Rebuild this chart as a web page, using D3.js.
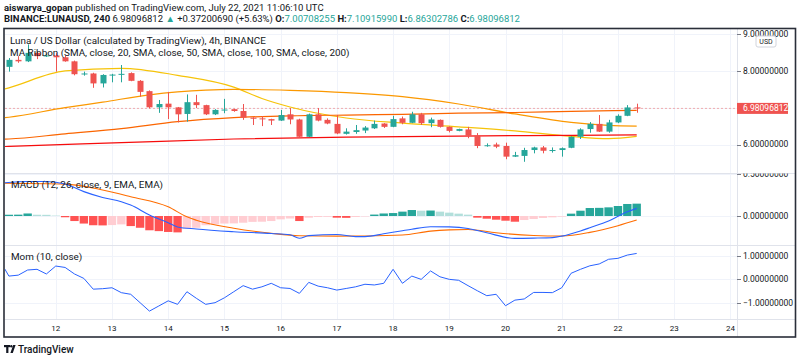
<!DOCTYPE html>
<meta charset="utf-8">
<style>
    body { margin: 0; background: #fff; }
    svg text { font-family: Roboto, "Noto Sans", sans-serif; fill: #131722; }
    .grid line { stroke: #f0f3fa; stroke-width: 1; }
    .sep { stroke: #e0e3eb; stroke-width: 1; }
    .axis-label { font-size: 8.5px; }
    .legend { font-size: 9.9px; }
</style>
<body>
<script src="https://d3js.org/d3.v7.min.js"></script>
<script>

// ---- data (4h candles, Jul 11 04:00 .. Jul 22 08:00 UTC) ----
var openP  = [8.11,8.30,8.26,8.49,8.40,8.42,8.37,8.26,7.91,7.93,7.66,7.88,7.90,7.94,7.73,7.45,7.01,7.11,7.01,6.83,
              7.15,7.07,6.82,6.94,6.96,6.91,6.73,6.71,6.69,6.65,6.82,6.68,6.21,6.82,6.67,6.56,6.29,6.34,6.38,6.44,
              6.57,6.48,6.71,6.59,6.82,6.58,6.67,6.48,6.37,6.41,6.24,5.97,6.00,5.96,5.67,5.69,5.85,5.92,5.84,5.85,
              5.91,6.21,6.42,6.56,6.35,6.60,6.78,7.00708255];
var highP  = [8.35,8.40,8.72,8.52,8.47,8.48,8.42,8.28,7.98,7.95,7.91,7.92,8.16,7.96,7.75,7.47,7.21,7.43,7.02,7.36,
              7.35,7.08,6.96,7.24,6.97,7.10,6.74,6.77,6.70,6.94,6.99,6.70,6.84,6.99,6.71,6.80,6.44,6.53,6.50,6.65,
              6.58,6.78,6.76,6.89,6.86,6.73,6.68,6.49,6.43,6.48,6.31,6.03,6.05,6.05,5.80,5.91,5.94,5.96,5.92,5.92,
              6.22,6.44,6.61,6.80,6.67,6.82,7.07,7.10915990];
var lowP   = [7.98,8.22,8.24,8.32,8.38,7.98,8.25,7.88,7.87,7.54,7.55,7.69,7.69,7.72,7.30,6.98,6.86,6.69,6.60,6.62,
              6.99,6.80,6.80,6.85,6.89,6.67,6.53,6.50,6.53,6.64,6.55,6.19,6.20,6.63,6.55,6.28,6.27,6.29,6.31,6.42,
              6.45,6.47,6.55,6.58,6.53,6.47,6.46,6.33,6.36,6.17,5.90,5.94,5.90,5.60,5.66,5.53,5.76,5.76,5.78,5.67,
              5.90,6.15,6.32,6.34,6.32,6.58,6.77,6.86302786];
var closeP = [8.30,8.26,8.49,8.40,8.42,8.37,8.26,7.91,7.93,7.66,7.89,7.90,7.92,7.73,7.43,7.01,7.10,7.01,6.82,7.15,
              7.07,6.82,6.94,6.95,6.91,6.73,6.70,6.70,6.65,6.80,6.68,6.21,6.82,6.65,6.57,6.30,6.35,6.39,6.46,6.56,
              6.48,6.69,6.59,6.82,6.58,6.68,6.48,6.37,6.42,6.24,5.96,5.98,5.94,5.67,5.71,5.85,5.92,5.83,5.85,5.90,
              6.21,6.41,6.56,6.35,6.60,6.78,7.00708255,6.98096812];

// MA ribbon, sampled at candle index (-1 = one bar before the first visible candle)
var sma20  = [[-1,7.47],[0,7.54],[6,8.00],[12,8.07],[18,7.88],[24,7.56],[27,7.25],[30,7.02],[36,6.72],[42,6.58],[48,6.48],[54,6.37],[60,6.22],[64,6.16],[67,6.22]];
var sma50  = [[-1,6.71],[0,6.74],[6,7.00],[10,7.15],[15,7.35],[18,7.43],[21,7.48],[24,7.50],[30,7.47],[36,7.41],[42,7.30],[48,7.10],[54,6.83],[60,6.60],[64,6.52],[67,6.50]];
var sma100 = [[-1,6.14],[0,6.15],[6,6.29],[12,6.43],[18,6.62],[24,6.73],[30,6.78],[36,6.80],[42,6.82],[48,6.85],[54,6.87],[60,6.90],[67,6.93]];
var sma200 = [[-1,5.94],[0,5.95],[12,6.05],[24,6.15],[36,6.20],[48,6.23],[60,6.25],[67,6.26]];

// MACD (12, 26, close, 9)
var macdHist = [0.015,0.016,0.03,0.015,0.014,0.005,-0.015,-0.06,-0.09,-0.11,-0.112,-0.108,-0.10,-0.12,-0.14,-0.17,-0.18,-0.19,-0.195,-0.15,
                -0.14,-0.11,-0.10,-0.09,-0.088,-0.08,-0.07,-0.068,-0.06,-0.04,-0.03,-0.06,-0.02,-0.012,-0.01,-0.02,-0.022,-0.012,-0.006,0.017,
                0.03,0.035,0.052,0.071,0.063,0.065,0.052,0.04,0.028,0.016,-0.02,-0.032,-0.044,-0.056,-0.068,-0.048,-0.036,-0.024,-0.016,-0.008,
                0.028,0.063,0.095,0.097,0.103,0.119,0.143,0.147];
var macdLine = [[-1,0.39],[2,0.41],[4,0.41],[6,0.38],[8,0.29],[10,0.22],[12,0.17],[13,0.13],[15,0.012],[17,-0.08],[18,-0.13],[20,-0.155],
                [24,-0.187],[28,-0.208],[30,-0.224],[31,-0.265],[32,-0.234],[35,-0.22],[37,-0.246],[38,-0.245],[40,-0.212],[42,-0.175],
                [43,-0.157],[45,-0.128],[47,-0.13],[49,-0.148],[51,-0.2],[54,-0.266],[56,-0.263],[58,-0.257],[59,-0.24],[61,-0.178],
                [62,-0.14],[64,-0.06],[66,0.05],[67,0.091]];
var signalLine = [[-1,0.39],[6,0.38],[10,0.31],[13,0.23],[17,0.11],[19,-0.01],[20,-0.05],[24,-0.146],[28,-0.206],[31,-0.235],[35,-0.24],
                  [38,-0.238],[42,-0.226],[45,-0.18],[47,-0.165],[49,-0.16],[52,-0.2],[56,-0.232],[59,-0.238],[62,-0.195],[65,-0.115],[67,-0.048]];

// Momentum (10, close), index -1 .. 67
var mom = [0.83,0.14,0.18,0.40,0.43,0.23,0.57,0.51,0.23,0.04,-0.42,-0.40,-0.36,-0.57,-0.64,-1.00,-1.36,-1.14,-0.92,-1.07,
           -0.53,-0.81,-1.07,-1.00,-0.79,-0.53,-0.27,-0.42,-0.32,-0.17,-0.36,-0.39,-0.60,-0.13,-0.29,-0.36,-0.46,-0.39,-0.32,-0.21,
           -0.24,-0.17,0.43,-0.17,0.14,0.00,0.36,0.11,0.00,-0.04,-0.27,-0.49,-0.70,-0.64,-1.13,-0.89,-0.84,-0.56,-0.56,-0.57,
           -0.36,0.26,0.43,0.58,0.66,0.86,0.90,1.04,1.11];

var priceTicks = [6, 7, 8, 9];
var macdTicks = [0, 0.5];
var momTicks = [-1, 0, 1];
var lastPrice = 6.98096812;

// ---- layout ----
var width = 800, height = 362;
var left = 5, plotRight = 737, right = 795;
var mainTop = 29, macdTop = 173, momTop = 245, axisTop = 319, bottom = 337;

var svg = d3.select("body").append("svg")
    .attr("width", width)
    .attr("height", height);

var t0 = new Date(Date.UTC(2021, 6, 11, 4));
function barTime(i) { return d3.utcHour.offset(t0, 4 * i); }

var x = d3.scaleUtc()
    .domain([barTime(0), barTime(67)])
    .range([8.9, 636.7]);
var step = x(barTime(1)) - x(barTime(0));

var yMain = d3.scaleLinear().domain([6, 9]).range([144.5, 34.1]);
var yMacd = d3.scaleLinear().domain([0, 0.5]).range([216, 174]);
var yMom  = d3.scaleLinear().domain([-1, 1]).range([302.7, 256]);

var defs = svg.append("defs");
function clip(id, x0, y0, x1, y1) {
    defs.append("clipPath").attr("id", id).append("rect")
        .attr("x", x0).attr("y", y0).attr("width", x1 - x0).attr("height", y1 - y0);
    return "url(#" + id + ")";
}
var clipMain = clip("c-main", left, mainTop, plotRight, macdTop);
var clipMacd = clip("c-macd", left, macdTop, plotRight, momTop);
var clipMom  = clip("c-mom", left, momTop, plotRight, axisTop);
var clipAxMain = clip("a-main", plotRight, mainTop, right, macdTop);
var clipAxMacd = clip("a-macd", plotRight, macdTop + 0.5, right, momTop);
var clipAxMom  = clip("a-mom", plotRight, momTop, right, axisTop);

// ---- grid ----
var days = d3.utcDay.range(new Date(Date.UTC(2021, 6, 12)), new Date(Date.UTC(2021, 6, 25)));
var grid = svg.append("g").attr("class", "grid");
grid.selectAll(".vg").data(days).enter().append("line")
    .attr("x1", function(d) { return Math.round(x(d)) + 0.5; })
    .attr("x2", function(d) { return Math.round(x(d)) + 0.5; })
    .attr("y1", mainTop).attr("y2", axisTop);

function hgrid(ticks, y) {
    grid.selectAll(null).data(ticks).enter().append("line")
        .attr("x1", left).attr("x2", plotRight)
        .attr("y1", function(d) { return Math.round(y(d)) + 0.5; })
        .attr("y2", function(d) { return Math.round(y(d)) + 0.5; });
}
hgrid(priceTicks, yMain);
hgrid(macdTicks, yMacd);
hgrid(momTicks, yMom);

// pane separators
[macdTop, momTop, axisTop].forEach(function(yy) {
    svg.append("line").attr("class", "sep")
        .attr("x1", left).attr("x2", right)
        .attr("y1", yy + 0.5).attr("y2", yy + 0.5);
});
svg.append("line").attr("class", "sep")
    .attr("x1", plotRight + 0.5).attr("x2", plotRight + 0.5)
    .attr("y1", mainTop).attr("y2", bottom);

// ---- main pane ----
var main = svg.append("g").attr("clip-path", clipMain);

main.append("line")
    .attr("x1", left).attr("x2", plotRight)
    .attr("y1", yMain(lastPrice)).attr("y2", yMain(lastPrice))
    .attr("stroke", "#ef5350").attr("stroke-opacity", 0.45)
    .attr("stroke-dasharray", "2,2");

var maLine = d3.line()
    .x(function(d) { return x(barTime(d[0])); })
    .y(function(d) { return yMain(d[1]); })
    .curve(d3.curveMonotoneX);

[[sma20, "#f6c309"], [sma50, "#fb9800"], [sma100, "#fb6500"], [sma200, "#f60c0c"]].forEach(function(m) {
    main.append("path")
        .attr("d", maLine(m[0]))
        .attr("fill", "none")
        .attr("stroke", m[1])
        .attr("stroke-width", 1.2);
});

var candles = d3.range(openP.length).map(function(i) {
    return {i: i, o: openP[i], h: highP[i], l: lowP[i], c: closeP[i]};
});
var candle = main.selectAll(".candle").data(candles).enter().append("g")
    .attr("fill", function(d) { return d.c >= d.o ? "#26a69a" : "#ef5350"; })
    .attr("stroke", function(d) { return d.c >= d.o ? "#26a69a" : "#ef5350"; });

candle.append("line")
    .attr("x1", function(d) { return Math.round(x(barTime(d.i))) + 0.5; })
    .attr("x2", function(d) { return Math.round(x(barTime(d.i))) + 0.5; })
    .attr("y1", function(d) { return yMain(d.h); })
    .attr("y2", function(d) { return yMain(d.l); });

var bodyW = 6;
candle.append("rect")
    .attr("stroke", "none")
    .attr("x", function(d) { return Math.round(x(barTime(d.i))) + 0.5 - bodyW / 2; })
    .attr("width", bodyW)
    .attr("y", function(d) { return yMain(Math.max(d.o, d.c)); })
    .attr("height", function(d) { return Math.max(1, Math.abs(yMain(d.o) - yMain(d.c))); });

// ---- MACD pane ----
var macd = svg.append("g").attr("clip-path", clipMacd);
var histColor = function(v, i) {
    var prev = i > 0 ? macdHist[i - 1] : -Infinity;
    if (v >= 0) return v >= prev ? "#26a69a" : "#b2dfdb";
    return v <= prev ? "#ff5252" : "#ffcdd2";
};
macd.selectAll(".hist").data(macdHist).enter().append("rect")
    .attr("x", function(d, i) { return x(barTime(i)) - (step - 1) / 2; })
    .attr("width", step - 1)
    .attr("y", function(d) { return Math.min(yMacd(d), yMacd(0)); })
    .attr("height", function(d) { return Math.abs(yMacd(d) - yMacd(0)); })
    .attr("fill", histColor);

var macdPath = d3.line()
    .x(function(d) { return x(barTime(d[0])); })
    .y(function(d) { return yMacd(d[1]); })
    .curve(d3.curveMonotoneX);
macd.append("path").attr("d", macdPath(signalLine))
    .attr("fill", "none").attr("stroke", "#ff6d00").attr("stroke-width", 1.1);
macd.append("path").attr("d", macdPath(macdLine))
    .attr("fill", "none").attr("stroke", "#2962ff").attr("stroke-width", 1.1);

// ---- Momentum pane ----
var momG = svg.append("g").attr("clip-path", clipMom);
momG.append("path")
    .datum(mom)
    .attr("d", d3.line()
        .x(function(d, i) { return x(barTime(i - 1)); })
        .y(function(d) { return yMom(d); }))
    .attr("fill", "none").attr("stroke", "#2962ff").attr("stroke-width", 1);

// ---- price axes ----
var fmt = d3.format(".8f");
function priceAxis(ticks, y, clipUrl) {
    var g = svg.append("g").attr("clip-path", clipUrl);
    g.selectAll("line").data(ticks).enter().append("line")
        .attr("x1", plotRight).attr("x2", plotRight + 4)
        .attr("y1", function(d) { return Math.round(y(d)) + 0.5; })
        .attr("y2", function(d) { return Math.round(y(d)) + 0.5; })
        .attr("stroke", "#787b86");
    g.selectAll("text").data(ticks).enter().append("text")
        .attr("class", "axis-label")
        .attr("x", 743)
        .attr("y", function(d) { return y(d); })
        .attr("dy", "0.35em")
        .text(function(d) { return fmt(d).replace("-", "\u2212"); });
    return g;
}
var axMain = priceAxis(priceTicks, yMain, clipAxMain);
priceAxis(macdTicks, yMacd, clipAxMacd);
priceAxis(momTicks, yMom, clipAxMom);

// USD badge
axMain.append("rect")
    .attr("x", 756).attr("y", 36).attr("width", 20).attr("height", 11).attr("rx", 2)
    .attr("fill", "#fff").attr("stroke", "#d1d4dc");
axMain.append("text")
    .attr("x", 766).attr("y", 41.5).attr("dy", "0.35em")
    .attr("text-anchor", "middle").style("font-size", "7px")
    .text("USD");

// last price label
axMain.append("rect")
    .attr("x", plotRight).attr("y", yMain(lastPrice) - 5.5)
    .attr("width", 51).attr("height", 11)
    .attr("fill", "#ef5350");
axMain.append("text")
    .attr("class", "axis-label")
    .attr("x", 743).attr("y", yMain(lastPrice)).attr("dy", "0.35em")
    .style("fill", "#fff")
    .text(fmt(lastPrice));

// ---- time axis ----
svg.append("g").selectAll("text").data(days).enter().append("text")
    .attr("class", "axis-label")
    .attr("x", function(d) { return x(d); })
    .attr("y", 331)
    .attr("text-anchor", "middle")
    .style("font-size", "8px")
    .text(d3.utcFormat("%-d"));

// ---- frame ----
svg.append("rect")
    .attr("x", 4).attr("y", 28.5).attr("width", 791.5).attr("height", 308.5)
    .attr("fill", "none").attr("stroke", "#2a2e39").attr("stroke-width", 1.6);

// ---- legends ----
svg.append("text").attr("class", "legend").attr("x", 10).attr("y", 44).text("Luna / US Dollar (calculated by TradingView), 4h, BINANCE");
svg.append("text").attr("class", "legend").attr("x", 10).attr("y", 55.5).text("MA Ribbon (SMA, close, 20, SMA, close, 50, SMA, close, 100, SMA, close, 200)");
svg.append("text").attr("class", "legend").attr("x", 11).attr("y", 187.5).text("MACD (12, 26, close, 9, EMA, EMA)");
svg.append("text").attr("class", "legend").attr("x", 11).attr("y", 259.5).text("Mom (10, close)");

// ---- header ----
var h1 = svg.append("text").attr("x", 4).attr("y", 10.5).style("font-size", "9.5px");
h1.append("tspan").style("font-weight", "bold").text("aiswarya_gopan");
h1.append("tspan").text(" published on TradingView.com, July 22, 2021 11:06:10 UTC");

var teal = "#26a69a";
var h2 = svg.append("text").attr("x", 4).attr("y", 21.5).style("font-size", "9.5px");
h2.append("tspan").style("font-weight", "bold").text("BINANCE:LUNAUSD, 240");
h2.append("tspan").text("  6.98096812 ");
h2.append("tspan").style("fill", teal).text("\u25B2");
h2.append("tspan").text(" +0.37200690 (+5.63%) ");
[["O:", "7.00708255"], ["H:", "7.10915990"], ["L:", "6.86302786"], ["C:", "6.98096812"]].forEach(function(p, k) {
    h2.append("tspan").style("font-weight", "bold").text((k ? " " : "") + p[0]);
    h2.append("tspan").style("fill", teal).text(p[1]);
});

// ---- footer logo ----
var logo = svg.append("g").attr("fill", "#131722");
logo.append("rect").attr("x", 4).attr("y", 345).attr("width", 6).attr("height", 2.2);
logo.append("rect").attr("x", 6.2).attr("y", 345).attr("width", 2.2).attr("height", 8);
logo.append("circle").attr("cx", 11.3).attr("cy", 346.2).attr("r", 1.2);
logo.append("path").attr("d", "M13.2,345 L15.6,345 L12.8,353 L10.4,353 Z");
svg.append("text").attr("x", 18).attr("y", 352.5)
    .style("font-size", "10px").style("font-weight", "500")
    .text("TradingView");

</script>
</body>
